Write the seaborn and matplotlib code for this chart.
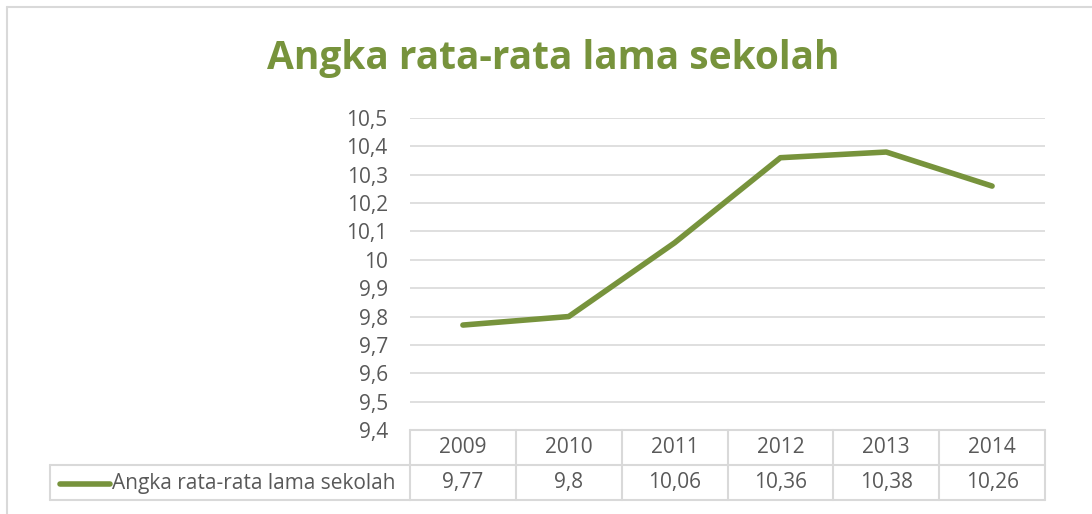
import numpy as np
import pandas as pd
import seaborn as sns
import matplotlib.pyplot as plt
from matplotlib.lines import Line2D

sns.set_style("white")
plt.rcParams['font.family'] = ['Open Sans', 'DejaVu Sans']

years = ['2009', '2010', '2011', '2012', '2013', '2014']
values = [9.77, 9.8, 10.06, 10.36, 10.38, 10.26]
value_labels = ['9,77', '9,8', '10,06', '10,36', '10,38', '10,26']
series_name = 'Angka rata-rata lama sekolah'
yticks = [9.4, 9.5, 9.6, 9.7, 9.8, 9.9, 10.0, 10.1, 10.2, 10.3, 10.4, 10.5]
ytick_labels = ['9,4', '9,5', '9,6', '9,7', '9,8', '9,9', '10', '10,1', '10,2', '10,3', '10,4', '10,5']

GREEN = '#77933C'
GRID = '#D9D9D9'
TXT = '#595959'
W, H = 1092, 514
FS = 15

df = pd.DataFrame({'pos': np.arange(len(years)), 'value': values})

fig = plt.figure(figsize=(W / 100, H / 100), dpi=100)
ax = fig.add_axes([410 / W, 1 - 430 / H, (1045 - 410) / W, (430 - 118) / H])

sns.lineplot(data=df, x='pos', y='value', ax=ax, color=GREEN, linewidth=4.0,
             solid_capstyle='round', solid_joinstyle='round')

ax.set_xlim(-0.5, len(years) - 0.5)
ax.set_ylim(9.4, 10.5)
ax.set_yticks(yticks)
ax.set_yticklabels(ytick_labels, fontsize=FS, color=TXT)
ax.tick_params(axis='y', length=0, pad=16)
ax.set_xticks([])
ax.set_xlabel('')
ax.set_ylabel('')
for y in yticks[1:]:
    ax.axhline(y, color=GRID, linewidth=1.2, zorder=0)
for s in ax.spines.values():
    s.set_visible(False)

# data table below the plot
tr = ax.get_xaxis_transform()
row1 = -35 / 312
row2 = -70 / 312
ax.plot([-0.5, 5.5], [0, 0], transform=tr, color=GRID, lw=1.5, clip_on=False)
ax.plot([-0.5, 5.5], [row1, row1], transform=tr, color=GRID, lw=1.5, clip_on=False)
ax.plot([-0.5, 5.5], [row2, row2], transform=tr, color=GRID, lw=1.5, clip_on=False)
for i in range(len(years) + 1):
    ax.plot([i - 0.5, i - 0.5], [0, row2], transform=tr, color=GRID, lw=1.5, clip_on=False)
for i, (yr, lab) in enumerate(zip(years, value_labels)):
    ax.text(i, row1 / 2, yr, transform=tr, ha='center', va='center', fontsize=FS, color=TXT)
    ax.text(i, (row1 + row2) / 2, lab, transform=tr, ha='center', va='center', fontsize=FS, color=TXT)

# legend cell
fy = lambda p: 1 - p / H
fx = lambda p: p / W
fig.add_artist(Line2D([fx(50), fx(410)], [fy(465), fy(465)], color=GRID, lw=1.5))
fig.add_artist(Line2D([fx(50), fx(410)], [fy(500), fy(500)], color=GRID, lw=1.5))
fig.add_artist(Line2D([fx(50), fx(50)], [fy(465), fy(500)], color=GRID, lw=1.5))
fig.add_artist(Line2D([fx(60), fx(110)], [fy(484), fy(484)], color=GREEN, lw=4.0,
                      solid_capstyle='round'))
fig.text(fx(112), fy(484), series_name, ha='left', va='center', fontsize=FS, color=TXT)

# chart frame
fig.add_artist(Line2D([fx(7), fx(7)], [fy(7), 0], color=GRID, lw=1.5))
fig.add_artist(Line2D([fx(7), 1], [fy(7), fy(7)], color=GRID, lw=1.5))

fig.text(fx(553), fy(59), series_name, ha='center', va='center', fontsize=28,
         fontweight='bold', color=GREEN)

fig.savefig('out.png', dpi=100)
